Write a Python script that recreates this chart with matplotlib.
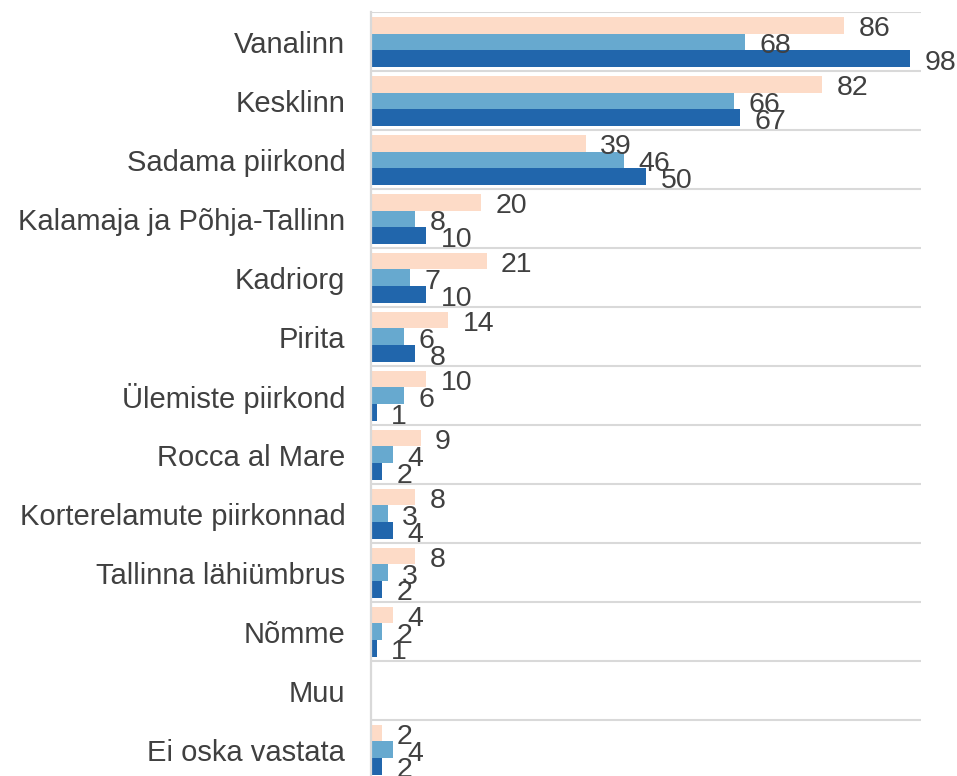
import numpy as np
import matplotlib
matplotlib.use("Agg")
import matplotlib.pyplot as plt

plt.rcParams["font.family"] = ["Liberation Sans", "DejaVu Sans"]

categories = [
    "Vanalinn", "Kesklinn", "Sadama piirkond", "Kalamaja ja Põhja-Tallinn",
    "Kadriorg", "Pirita", "Ülemiste piirkond", "Rocca al Mare",
    "Korterelamute piirkonnad", "Tallinna lähiümbrus", "Nõmme", "Muu",
    "Ei oska vastata",
]
# three answer groups, top to bottom inside each row ("Muu" has no bars)
series_top = [86, 82, 39, 20, 21, 14, 10, 9, 8, 8, 4, None, 2]
series_mid = [68, 66, 46, 8, 7, 6, 6, 4, 3, 3, 2, None, 4]
series_bot = [98, 67, 50, 10, 10, 8, 1, 2, 4, 2, 1, None, 2]

colors = ["#FDDBC7", "#67A9CF", "#2166AC"]
text_color = "#404040"
grid_color = "#D9D9D9"

fig = plt.figure(figsize=(9.57, 7.76), dpi=100)
ax = fig.add_axes([371 / 957, -0.004, 550 / 957, 0.988])

y = np.arange(len(categories))
h = 0.282
for k, (vals, col) in enumerate(zip([series_top, series_mid, series_bot], colors)):
    w = np.array([np.nan if v is None else v for v in vals], dtype=float)
    yy = y + (k - 1) * h
    ax.barh(yy, np.nan_to_num(w), height=h, color=col, zorder=3)
    for yi, v in zip(yy, w):
        if np.isnan(v):
            continue
        ax.annotate(f"{v:g}", xy=(v, yi), xytext=(10.5, -3), textcoords="offset points",
                    ha="left", va="center", fontsize=20.5, color=text_color,
                    annotation_clip=False, zorder=4)

ax.set_xlim(0, 100)
ax.set_ylim(len(categories) - 0.5, -0.5)
ax.set_yticks(y)
ax.set_yticklabels(categories, fontsize=21, color=text_color)
ax.set_yticks(np.arange(len(categories) + 1) - 0.5, minor=True)
ax.tick_params(axis="y", which="both", length=0, pad=18.5)
ax.set_xticks([])
ax.grid(axis="y", which="minor", color=grid_color, linewidth=1.5, zorder=0)
ax.grid(axis="y", which="major", visible=False)

for side in ["top", "right", "bottom"]:
    ax.spines[side].set_visible(False)
ax.spines["left"].set_color(grid_color)
ax.spines["left"].set_linewidth(1.6)
ax.spines["left"].set_zorder(5)

fig.savefig("out.png", dpi=100)
